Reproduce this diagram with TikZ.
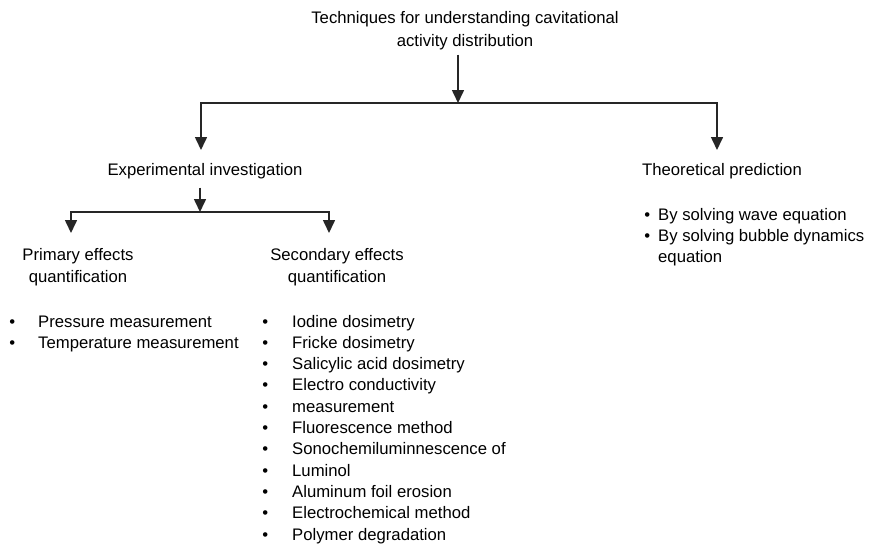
\documentclass[tikz,border=0pt]{standalone}
\usepackage{fontspec}
\setmainfont{Liberation Sans}
\usetikzlibrary{arrows.meta,positioning}

\begin{document}
\begin{tikzpicture}[x=1pt,y=-1pt,
   font=\fontsize{16.7}{24}\selectfont,
   lbl/.style={anchor=base,inner sep=0pt},
   item/.style={anchor=base west,inner sep=0pt},
   arr/.style={-{Triangle[length=13pt,width=12pt]},line width=1.6pt,draw=black!85}]
  \useasboundingbox (0,0) rectangle (869,543);

  % top level
  \node[lbl,align=center] (tech) at (465,47)
    {Techniques for understanding cavitational\\activity distribution};
  \coordinate (j1) at (458,103);
  \draw[arr,shorten <=4pt] (tech.south -| j1) -- (j1);

  % experimental / theoretical
  \node[lbl] (exp) at (205,175) {Experimental investigation};
  \node[lbl] (theo) at (722,175) {Theoretical prediction};
  \coordinate (e1) at (201,150);
  \coordinate (t1) at (717,150);
  \draw[arr] (j1) -| (e1);
  \draw[arr] (j1) -| (t1);

  % primary / secondary
  \coordinate (j2) at (200,212);
  \draw[arr,shorten <=9pt] (exp.south -| j2) -- (j2);
  \node[lbl,align=center,font=\fontsize{16.7}{22}\selectfont] (prim) at (78,282)
    {Primary effects\\quantification};
  \node[lbl,align=center,font=\fontsize{16.7}{22}\selectfont] (sec) at (337,282)
    {Secondary effects\\quantification};
  \coordinate (p1) at (71,233);
  \coordinate (s1) at (329,233);
  \draw[arr] (j2) -| (p1);
  \draw[arr] (j2) -| (s1);

  % lists
  \foreach \txt [count=\i] in {Pressure measurement,Temperature measurement}
    \node[item] (pri\i) at (38,{327+21*(\i-1)}) {\llap{\textbullet\hspace{23pt}}\txt};
  \foreach \txt [count=\i] in {Iodine dosimetry,Fricke dosimetry,Salicylic acid dosimetry,
      Electro conductivity,measurement,Fluorescence method,Sonochemiluminnescence of,
      Luminol,Aluminum foil erosion,Electrochemical method,Polymer degradation}
    \node[item] (snd\i) at (292,{327+21.3*(\i-1)}) {\llap{\textbullet\hspace{24pt}}\txt};
  \foreach \txt [count=\i] in {By solving wave equation,By solving bubble dynamics}
    \node[item] (th\i) at (658,{220+21*(\i-1)}) {\llap{\textbullet\hspace{8pt}}\txt};
  \node[item] (th3) at (658,262) {equation};
\end{tikzpicture}
\end{document}
